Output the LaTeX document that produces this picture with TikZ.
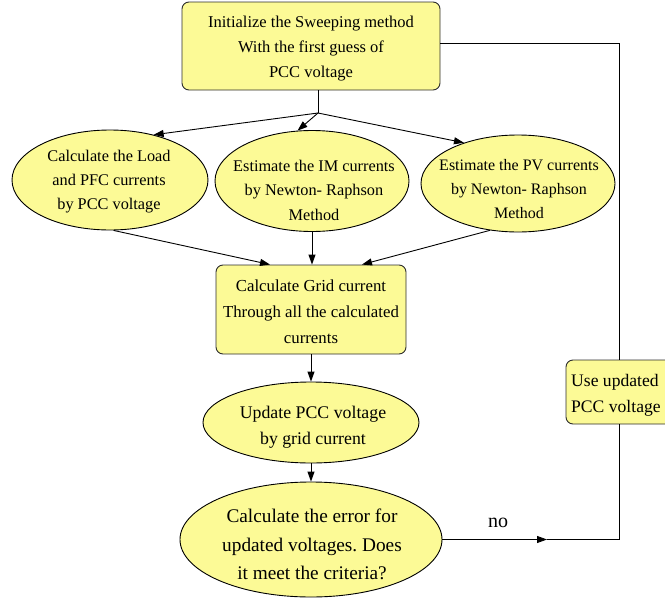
\documentclass[tikz,border=0pt]{standalone}
\usepackage{fontspec}
\setmainfont{Liberation Serif}
\usetikzlibrary{arrows.meta,calc,shapes.geometric}
\definecolor{fillY}{RGB}{252,250,150}
\definecolor{edgeG}{RGB}{45,45,45}
\frenchspacing
\begin{document}
\begin{tikzpicture}[x=1pt,y=-1pt,
  box/.style={draw=edgeG,fill=fillY,rounded corners=7pt,line width=0.9pt,inner sep=0pt},
  ell/.style={draw=black,fill=fillY,ellipse,line width=0.9pt,inner sep=0pt},
  txt/.style={align=center,inner sep=0pt},
  arr/.style={-{Triangle[length=10pt,width=7pt]},line width=0.9pt},
  ln/.style={line width=0.9pt}]
\useasboundingbox (0,0) rectangle (665,600);
\clip (0,0) rectangle (665,600);
% nodes
\node[box,minimum width=258,minimum height=88] (T) at (311,46) {};
\node[txt,font=\fontsize{16.5}{25}\selectfont] (Tt) at (311,49) {Initialize the Sweeping method\\With the first guess of\\PCC voltage};
\node[ell,minimum width=196,minimum height=100] (L) at (110,180) {};
\node[txt,font=\fontsize{16.3}{24}\selectfont] (Lt) at (109,182) {Calculate the Load\\and PFC currents\\by PCC voltage};
\node[ell,minimum width=194,minimum height=101] (M) at (312,181) {};
\node[txt,font=\fontsize{16.3}{24.5}\selectfont] (Mt) at (314,190) {Estimate the IM currents\\by Newton- Raphson\\Method};
\node[ell,minimum width=194,minimum height=97] (R) at (518,183.5) {};
\node[txt,font=\fontsize{16}{24}\selectfont] (Rt) at (519,189) {Estimate the PV currents\\by Newton- Raphson\\Method};
\node[box,minimum width=190,minimum height=89] (G) at (311,309.5) {};
\node[txt,font=\fontsize{16.8}{26}\selectfont] (Gt) at (311,312) {Calculate Grid current\\Through all the calculated\\currents};
\node[ell,minimum width=216,minimum height=81] (Up) at (311,422.5) {};
\node[txt,font=\fontsize{17.8}{26}\selectfont] (Upt) at (313,427) {Update PCC voltage\\by grid current};
\node[ell,minimum width=262,minimum height=115] (E) at (311,539.5) {};
\node[txt,font=\fontsize{19.3}{28.5}\selectfont] (Et) at (312,544.5) {Calculate the error for\\updated voltages. Does\\it meet the criteria?};
\node[box,minimum width=106,minimum height=64] (U) at (619,392) {};
\node[txt,align=left,anchor=west,font=\fontsize{17.6}{26}\selectfont] (Ut) at (571,395) {Use updated\\PCC voltage};
\node[inner sep=0pt,font=\fontsize{20}{24}\selectfont] (no) at (498,523) {no};
% connectors
\coordinate (F) at (318,113);
\draw[ln] (T.south -| F) -- (F);
\draw[arr] (F) -- (L.46);
\draw[arr] (F) -- (M.106);
\draw[arr] (F) -- (R.143);
\draw[arr] (L.-86) -- ($(G.north)+(-41,0)$);
\draw[arr] (M.south) -- (M.south |- G.north);
\draw[arr] (R.-121) -- ($(G.north)+(51,0)$);
\draw[arr] (G.south) -- (Up.north);
\draw[arr] (Up.south) -- (E.north);
\coordinate (N) at (547,539.5);
\draw[arr] (E.east) -- (N);
\draw[ln] (N) -| (U.south);
\draw[ln] (U.north) |- ([yshift=3pt]T.east);
\end{tikzpicture}
\end{document}
